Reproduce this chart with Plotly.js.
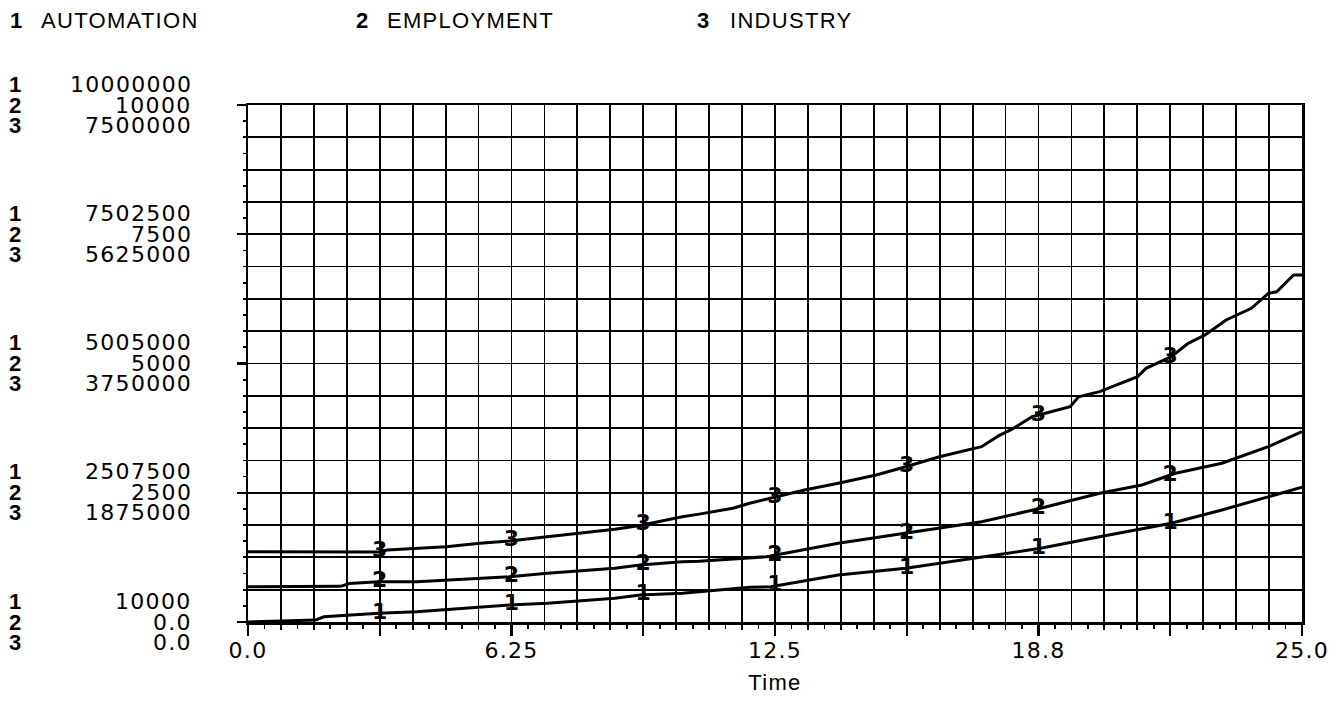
<!DOCTYPE html>
<html><head><meta charset="utf-8">
<script src="https://cdn.plot.ly/plotly-3.0.1.min.js"></script>
<style>
html,body{margin:0;padding:0;background:#fff;}
#chart{width:1330px;height:704px;}
.annotation-text, .xtick text, .x2tick text, .g-x2title text, .g-xtitle text { letter-spacing:1.3px; }
</style></head><body><div id="chart"></div>
<script>
// ---- data ----
const seriesNames = ["AUTOMATION", "EMPLOYMENT", "INDUSTRY"];
const seriesNumbers = ["1", "2", "3"];

const timeAutomation = [0, 0.8, 1.6, 1.8, 2.8, 3.1, 4.0, 5.5, 6.2, 7.1, 8.7, 9.3, 10.3, 10.7, 11.9, 12.4, 14.0, 15.6, 17.4, 18.8, 20.2, 21.9, 23.1, 24.2, 25.0];
const automation = [10000, 35000, 48000, 110000, 165000, 178000, 209000, 294000, 338000, 372000, 468000, 532000, 565000, 595000, 680000, 692000, 918000, 1048000, 1272000, 1434000, 1658000, 1917000, 2174000, 2431000, 2613000];

const timeEmployment = [0, 2.2, 2.4, 3.1, 4.0, 5.5, 6.2, 7.1, 8.7, 9.3, 10.3, 10.7, 11.9, 12.3, 14.0, 15.6, 17.4, 18.8, 20.2, 21.2, 22.0, 23.1, 24.2, 25.0];
const employment = [683, 690, 745, 780, 780, 845, 876, 942, 1039, 1103, 1166, 1175, 1232, 1263, 1522, 1716, 1940, 2199, 2489, 2650, 2876, 3070, 3391, 3681];

const timeIndustry = [0, 3.1, 3.3, 4.7, 5.5, 6.2, 7.1, 7.9, 8.7, 9.3, 10.3, 10.7, 11.5, 11.9, 12.4, 13.2, 14.0, 14.9, 15.6, 16.4, 17.4, 17.8, 18.1, 18.6, 19.5, 19.7, 20.2, 21.1, 21.3, 21.9, 22.3, 22.7, 23.2, 23.8, 24.2, 24.4, 24.8, 25.0];
const industry = [1020000, 1015000, 1044000, 1092000, 1142000, 1175000, 1237000, 1287000, 1345000, 1400000, 1528000, 1565000, 1650000, 1722000, 1795000, 1915000, 2012000, 2132000, 2253000, 2398000, 2543000, 2700000, 2790000, 2978000, 3123000, 3268000, 3341000, 3559000, 3680000, 3849000, 4043000, 4163000, 4381000, 4551000, 4768000, 4791000, 5034000, 5034000];

const labelTimes = [3.125, 6.25, 9.375, 12.5, 15.625, 18.75, 21.875];

const xTickVals = [0, 3.125, 6.25, 9.375, 12.5, 15.625, 18.75, 21.875, 25];
const xTickText = ["0.0", "", "6.25", "", "12.5", "", "18.8", "", "25.0"];

const yTickVals = [0, 2500, 5000, 7500, 10000];           // EMPLOYMENT scale positions
const automationTicks = ["10000", "2507500", "5005000", "7502500", "10000000"];
const employmentTicks = ["0.0", "2500", "5000", "7500", "10000"];
const industryTicks = ["0.0", "1875000", "3750000", "5625000", "7500000"];

const automationRange = [10000, 10000000];
const employmentRange = [0, 10000];
const industryRange = [0, 7500000];
const timeRange = [0, 25];

// ---- helpers ----
function interp(xs, ys, x) {
  for (let i = 0; i < xs.length - 1; i++) {
    if (x >= xs[i] && x <= xs[i + 1]) {
      const f = (x - xs[i]) / (xs[i + 1] - xs[i]);
      return ys[i] + f * (ys[i + 1] - ys[i]);
    }
  }
  return ys[ys.length - 1];
}

const numFont = {family: "DejaVu Sans", size: 22, color: "#000"};
const boldNum = {family: "DejaVu Sans", size: 22, color: "#000", weight: 700};
const sideNumFont = {family: "Liberation Sans", size: 22, color: "#000", weight: 700};
const lineStyle = {color: "#000", width: 3};

const sets = [
  {t: timeAutomation, v: automation, axis: "y2", n: "1", name: seriesNames[0]},
  {t: timeEmployment, v: employment, axis: "y", n: "2", name: seriesNames[1]},
  {t: timeIndustry, v: industry, axis: "y3", n: "3", name: seriesNames[2]}
];

const traces = [];
sets.forEach(s => {
  traces.push({x: s.t, y: s.v, xaxis: "x", yaxis: s.axis, mode: "lines", line: lineStyle,
               name: s.name, showlegend: false, hoverinfo: "skip"});
});
sets.forEach(s => {
  traces.push({x: labelTimes, y: labelTimes.map(t => interp(s.t, s.v, t)), xaxis: "x", yaxis: s.axis,
               mode: "text", text: labelTimes.map(() => s.n), textposition: "middle center",
               textfont: boldNum, showlegend: false, hoverinfo: "skip", cliponaxis: false});
});
// invisible anchor trace so that the overlay axes (long ticks, labels, title) are drawn
traces.push({x: [timeRange[0]], y: [employmentRange[0]], xaxis: "x2", yaxis: "y4", mode: "markers",
             marker: {opacity: 0, size: 1}, showlegend: false, hoverinfo: "skip"});

const annotations = [];
// legend row
const legendNumX = [17, 363, 704];
const legendTextX = [39, 385, 728];
seriesNames.forEach((nm, i) => {
  annotations.push({xref: "paper", yref: "paper", x: 0, y: 1, xshift: legendNumX[i] - 248, yshift: 105 - 20,
    text: seriesNumbers[i], showarrow: false, xanchor: "center", yanchor: "middle", font: sideNumFont});
  annotations.push({xref: "paper", yref: "paper", x: 0, y: 1, xshift: legendTextX[i] - 248, yshift: 105 - 20,
    text: nm, showarrow: false, xanchor: "left", yanchor: "middle",
    font: {family: "Liberation Sans", size: 22, color: "#000"}});
});
// stacked y tick labels
const shifts = [21, 0, -20];
yTickVals.forEach((yv, i) => {
  const vals = [automationTicks[i], employmentTicks[i], industryTicks[i]];
  vals.forEach((txt, k) => {
    annotations.push({xref: "paper", yref: "y", x: 0, y: yv, xshift: -54, yshift: shifts[k],
      text: txt, showarrow: false, xanchor: "right", yanchor: "middle", font: numFont});
    annotations.push({xref: "paper", yref: "y", x: 0, y: yv, xshift: -232, yshift: shifts[k],
      text: seriesNumbers[k], showarrow: false, xanchor: "center", yanchor: "middle", font: sideNumFont});
  });
});

const layout = {
  width: 1330, height: 704,
  margin: {l: 248, r: 28, t: 105, b: 82, pad: 0},
  paper_bgcolor: "#fff", plot_bgcolor: "#fff",
  showlegend: false,
  xaxis: {range: timeRange, tick0: 0, dtick: 0.78125, showgrid: true, gridcolor: "#000", gridwidth: 1.8,
          ticks: "outside", ticklen: 5, tickwidth: 1.8, tickcolor: "#000", showticklabels: false,
          showline: true, linecolor: "#000", linewidth: 2.5, mirror: true, zeroline: false,
          minor: {tick0: 0, dtick: 0.390625, ticks: "outside", ticklen: 4, tickwidth: 1.8, tickcolor: "#000", showgrid: false}},
  xaxis2: {overlaying: "x", anchor: "y", side: "bottom", range: timeRange, tickmode: "array",
           tickvals: xTickVals, ticktext: xTickText, ticks: "outside", ticklen: 13, tickwidth: 2.2,
           tickcolor: "#000", showgrid: false, showline: false, zeroline: false,
           tickfont: numFont, ticklabelstandoff: -4,
           title: {text: "Time", font: {family: "Liberation Sans", size: 22, color: "#000"}, standoff: 12}},
  yaxis: {range: employmentRange, tick0: 0, dtick: 625, showgrid: true, gridcolor: "#000", gridwidth: 1.8,
          ticks: "outside", ticklen: 3, tickwidth: 1.8, tickcolor: "#000", showticklabels: false,
          showline: true, linecolor: "#000", linewidth: 2.5, mirror: true, zeroline: false,
          minor: {tick0: 0, dtick: 312.5, ticks: "outside", ticklen: 3, tickwidth: 1.8, tickcolor: "#000", showgrid: false}},
  yaxis2: {overlaying: "y", range: automationRange, visible: false, showgrid: false, zeroline: false},
  yaxis3: {overlaying: "y", range: industryRange, visible: false, showgrid: false, zeroline: false},
  yaxis4: {overlaying: "y", anchor: "x2", side: "left", range: employmentRange, tickmode: "array", tickvals: yTickVals,
           ticks: "outside", ticklen: 10, tickwidth: 2.2, tickcolor: "#000", showticklabels: false,
           showgrid: false, showline: false, zeroline: false},
  annotations: annotations
};

Plotly.newPlot("chart", traces, layout, {staticPlot: true, displayModeBar: false});
</script></body></html>
